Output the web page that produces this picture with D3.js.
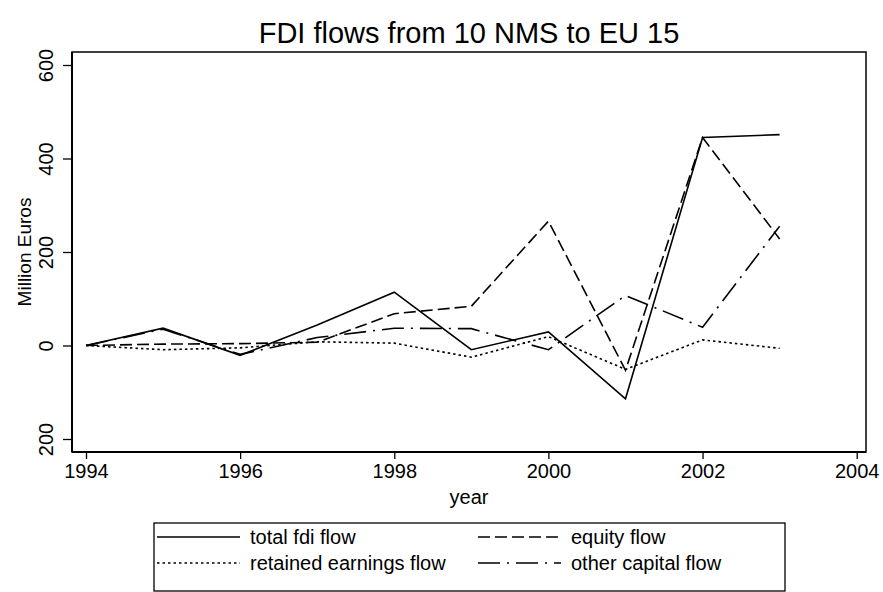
<!DOCTYPE html>
<html><head><meta charset="utf-8">
<script src="https://cdn.jsdelivr.net/npm/d3@7"></script>
<style>body{margin:0;background:#fff}svg{display:block;font-family:"Liberation Sans",Arial,Helvetica,sans-serif}</style>
</head><body><svg id="c" width="883" height="592"></svg>
<script>
const years = [1994,1995,1996,1997,1998,1999,2000,2001,2002,2003];
const totalFdi = [0,37,-21,44,114,-9,29,-114,445,451];
const equity = [0,3,4,7,68,84,266,-53,445,228];
const retained = [0,-9,-5,8,5,-25,19,-51,12,-6];
const otherCap = [0,35,-19,17,37,36,-9,107,39,255];
const xTicks = [1994,1996,1998,2000,2002,2004];
const yTicks = [-200,0,200,400,600];
const yTickLabels = ["200","0","200","400","600"];
const seriesNames = ["total fdi flow","equity flow","retained earnings flow","other capital flow"];

const svg = d3.select("#c");
const x = d3.scaleLinear().domain([1994,2004]).range([86,856.7]);
const y = d3.scaleLinear().domain([-200,600]).range([439,65]);
const frame = {l:72,r:866,t:52,b:452};

svg.append("rect").attr("width",883).attr("height",592).attr("fill","#fff");
svg.append("rect").attr("x",frame.l).attr("y",frame.t).attr("width",frame.r-frame.l).attr("height",frame.b-frame.t)
  .attr("fill","none").attr("stroke","#000").attr("stroke-width",1.5);

// x axis
const xa = svg.append("g").attr("transform",`translate(0,${frame.b})`)
  .call(d3.axisBottom(x).tickValues(xTicks).tickFormat(d3.format("d")).tickSize(7).tickPadding(5));
xa.select(".domain").remove();
xa.selectAll("line").attr("stroke","#000").attr("stroke-width",1.3);
xa.selectAll("text").attr("font-size",20).attr("fill","#000");
svg.append("line").attr("x1",frame.l).attr("x2",frame.r).attr("y1",frame.b).attr("y2",frame.b).attr("stroke","#000").attr("stroke-width",2);

// y axis
const ya = svg.append("g").attr("transform",`translate(${frame.l},0)`)
  .call(d3.axisLeft(y).tickValues(yTicks).tickFormat((d,i)=>yTickLabels[i]).tickSize(9).tickPadding(0));
ya.select(".domain").remove();
ya.selectAll("line").attr("stroke","#000").attr("stroke-width",1.3);
ya.selectAll("text").attr("font-size",20).attr("fill","#000")
  .attr("text-anchor","middle").attr("dy",null).attr("x",null)
  .attr("transform","translate(-19,0) rotate(-90)");
svg.append("line").attr("x1",frame.l).attr("x2",frame.l).attr("y1",frame.t).attr("y2",frame.b).attr("stroke","#000").attr("stroke-width",2);

// titles
svg.append("text").attr("x",(frame.l+frame.r)/2).attr("y",43).attr("text-anchor","middle").attr("font-size",29).text("FDI flows from 10 NMS to EU 15");
svg.append("text").attr("x",(frame.l+frame.r)/2).attr("y",504).attr("text-anchor","middle").attr("font-size",20).text("year");
svg.append("text").attr("transform",`translate(31,252) rotate(-90)`).attr("text-anchor","middle").attr("font-size",19).text("Million Euros");

// lines
const dashes = ["none","12,5","2.5,3","22,7,2,7"];
const data = [totalFdi,equity,retained,otherCap];
const line = d3.line().x((d,i)=>x(years[i])).y(d=>y(d));
data.forEach((vals,k)=>{
  svg.append("path").datum(vals).attr("d",line).attr("fill","none").attr("stroke","#000")
    .attr("stroke-width",1.6).attr("stroke-dasharray",dashes[k]).attr("stroke-linejoin","miter");
});

// legend
const lg = svg.append("g");
lg.append("rect").attr("x",154).attr("y",523).attr("width",631).attr("height",68).attr("fill","#fff").attr("stroke","#000").attr("stroke-width",1.3);
const pos = [[157,537],[478,537],[157,563],[478,563]];
seriesNames.forEach((n,k)=>{
  const [px,py]=pos[k];
  lg.append("line").attr("x1",px).attr("x2",px+83).attr("y1",py).attr("y2",py).attr("stroke","#000").attr("stroke-width",1.6).attr("stroke-dasharray",dashes[k]);
  lg.append("text").attr("x",px+93).attr("y",py+7).attr("font-size",20).text(n);
});
</script></body></html>
